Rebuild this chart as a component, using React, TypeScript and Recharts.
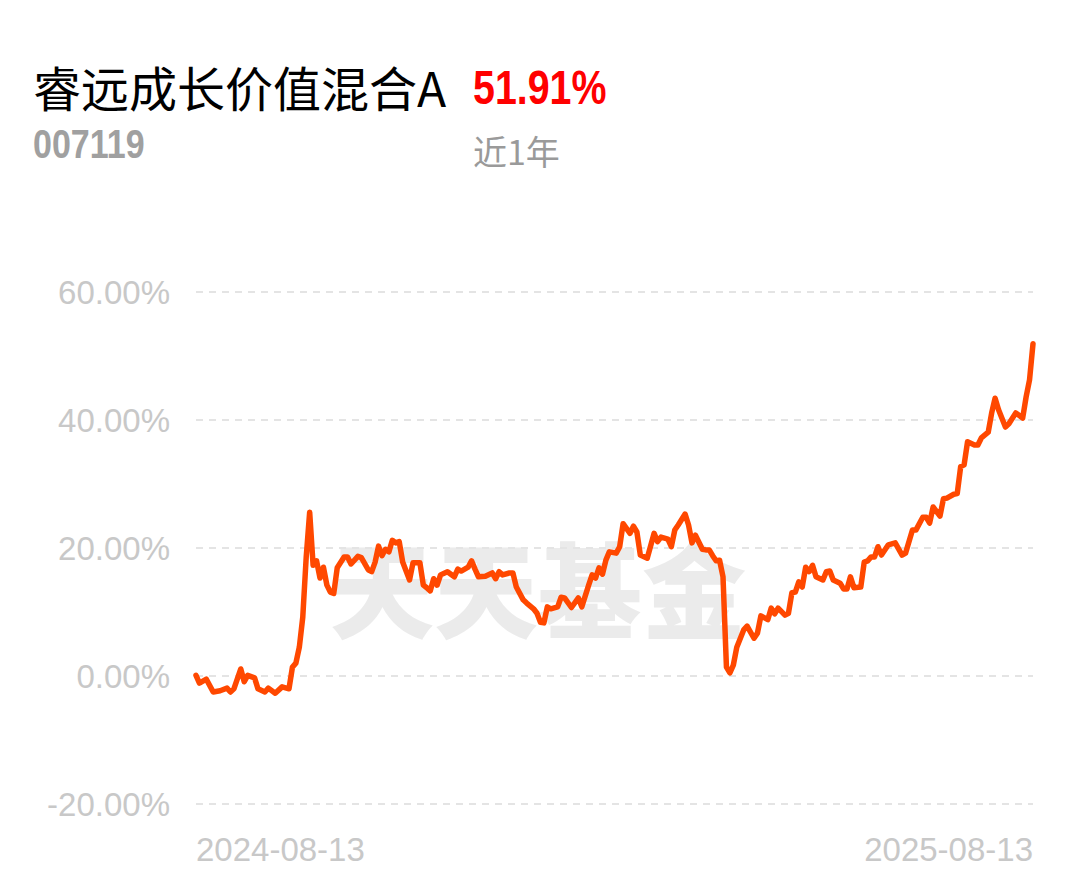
import { CartesianGrid, Line, LineChart, XAxis, YAxis } from "recharts";

// trading-day index since 2024-08-13, and cumulative return (%)
const days = [
  0, 1, 3, 5, 7, 9, 10, 11, 13, 14, 15, 17, 18, 20, 21, 23, 25, 27, 28, 29,
  30, 31, 32, 33, 34, 35, 36, 37, 38, 39, 40, 41, 43, 44, 45, 47, 48, 50, 51, 52,
  53, 54, 55, 56, 57, 58, 59, 60, 62, 63, 65, 66, 67, 68, 69, 70, 71, 73, 75, 76,
  77, 79, 80, 81, 82, 84, 86, 87, 88, 89, 91, 92, 93, 95, 96, 98, 99, 100, 101, 102,
  103, 105, 106, 107, 109, 111, 112, 114, 115, 116, 117, 118, 119, 120, 122, 123, 124, 126, 127, 128,
  129, 131, 133, 134, 135, 137, 138, 139, 140, 142, 143, 144, 145, 147, 148, 149, 150, 151, 152, 153,
  154, 155, 156, 157, 159, 160, 162, 163, 164, 166, 167, 168, 169, 171, 172, 173, 174, 175, 176, 177,
  178, 179, 180, 182, 183, 184, 185, 187, 188, 189, 190, 191, 193, 194, 195, 196, 197, 198, 199, 201,
  203, 205, 206, 208, 209, 211, 212, 213, 214, 216, 217, 218, 220, 221, 222, 223, 224, 226, 227, 228,
  230, 231, 232, 233, 235, 236, 238, 240, 241, 242, 243,
];

const returns = [
  0.1, -1.1, -0.5, -2.5, -2.3, -1.9, -2.5, -2.0, 1.1, -0.9, 0.1, -0.3, -2.0, -2.5, -1.9, -2.7, -1.7, -2.0, 1.4, 2.0,
  4.5, 9.2, 18.6, 25.6, 17.3, 18.0, 15.3, 17.0, 14.2, 13.1, 12.9, 16.9, 18.6, 18.6, 17.5, 18.7, 18.5, 16.6, 16.3, 17.8,
  20.3, 18.8, 19.8, 19.4, 21.2, 20.8, 21.0, 17.8, 15.0, 17.7, 17.7, 14.2, 13.8, 13.3, 15.2, 14.2, 15.8, 16.3, 15.5, 16.7,
  16.4, 17.0, 18.0, 16.7, 15.5, 15.6, 16.1, 15.2, 16.3, 15.8, 16.1, 16.1, 13.9, 11.9, 11.4, 10.5, 9.8, 8.4, 8.3, 10.8,
  10.5, 10.8, 12.3, 12.2, 10.7, 12.2, 10.8, 14.2, 15.8, 15.3, 16.9, 15.9, 18.1, 19.4, 19.2, 20.2, 23.8, 22.3, 23.4, 22.5,
  18.9, 18.4, 22.3, 21.0, 21.7, 21.4, 20.2, 22.8, 23.6, 25.3, 23.6, 20.8, 22.0, 19.8, 19.7, 19.7, 18.8, 18.0, 18.1, 15.5,
  1.4, 0.5, 1.7, 4.5, 7.2, 7.8, 5.9, 6.7, 9.4, 8.8, 10.6, 9.7, 10.6, 9.5, 9.8, 13.0, 13.1, 14.7, 13.9, 17.0,
  16.3, 17.3, 15.5, 15.0, 16.3, 16.4, 15.0, 14.5, 13.6, 13.6, 15.5, 13.8, 13.9, 17.8, 18.0, 18.6, 18.6, 20.2, 18.9, 20.5,
  20.8, 18.9, 19.2, 22.8, 22.8, 24.8, 24.8, 23.9, 26.4, 25.0, 27.7, 27.8, 28.4, 28.5, 32.7, 33.0, 36.6, 36.1, 36.1, 37.2,
  38.1, 41.1, 43.4, 41.6, 38.9, 39.4, 41.1, 40.3, 43.6, 46.3, 51.91,
];

const dateTicks = [0, 243];
const dateLabels = ["2024-08-13", "2025-08-13"];
const yTicks = [-20, 0, 20, 40, 60];

const data = days.map((d, i) => ({ day: d, value: returns[i] }));

const DateTick = (props: any) => {
  const { x, y, payload, index } = props;
  const i = dateTicks.indexOf(payload.value);
  return (
    <text
      x={x}
      y={y}
      dy={49}
      textAnchor={index === 0 ? "start" : "end"}
      fill="#c8c8c8"
      fontSize={33}
      fontFamily="'Liberation Sans', Arial, sans-serif"
    >
      {dateLabels[i]}
    </text>
  );
};

const narrow = (scale: number): React.CSSProperties => ({
  display: "inline-block",
  transform: `scaleX(${scale})`,
  transformOrigin: "left top",
  whiteSpace: "nowrap",
});

export default function App() {
  return (
    <div style={{ position: "absolute", left: 0, top: 0, width: 1080, height: 881, background: "#fff", overflow: "hidden" }}>
      <div style={{ position: "absolute", left: 33, top: 62, fontSize: 48, lineHeight: 1, color: "#000", fontFamily: "'Noto Sans CJK SC', sans-serif", whiteSpace: "nowrap" }}>
        睿远成长价值混合A
      </div>
      <div style={{ position: "absolute", left: 473, top: 64, fontSize: 48, lineHeight: 1, color: "#ff0000", fontWeight: "bold", fontFamily: "'Liberation Sans', Arial, sans-serif" }}>
        <span style={narrow(0.82)}>51.91%</span>
      </div>
      <div style={{ position: "absolute", left: 33, top: 124, fontSize: 40, lineHeight: 1, color: "#a0a0a0", fontWeight: "bold", fontFamily: "'Liberation Sans', Arial, sans-serif" }}>
        <span style={narrow(0.85)}>007119</span>
      </div>
      <div style={{ position: "absolute", left: 473, top: 134, fontSize: 34, lineHeight: 1, color: "#9a9a9a", fontFamily: "'Noto Sans CJK SC', sans-serif" }}>
        近1年
      </div>
      <div style={{ position: "absolute", left: 330, top: 534, fontSize: 104, lineHeight: 1, color: "#ebebeb", fontWeight: 900, fontFamily: "'Noto Sans CJK SC', sans-serif", whiteSpace: "nowrap" }}>
        天天基金
      </div>
      <div style={{ position: "absolute", left: 0, top: 0 }}>
        <LineChart width={1080} height={881} data={data} margin={{ top: 292, right: 47, bottom: 17, left: 0 }}>
          <CartesianGrid vertical={false} stroke="#e4e4e4" strokeWidth={2} strokeDasharray="7 6" />
          <XAxis
            dataKey="day"
            type="number"
            domain={[0, 243]}
            ticks={dateTicks}
            axisLine={false}
            tickLine={false}
            height={60}
            tick={<DateTick />}
            interval={0}
          />
          <YAxis
            type="number"
            domain={[-20, 60]}
            ticks={yTicks}
            axisLine={false}
            tickLine={false}
            width={196}
            tickMargin={20}
            tickFormatter={(v: number) => v.toFixed(2) + "%"}
            tick={{ fill: "#c8c8c8", fontSize: 33, fontFamily: "'Liberation Sans', Arial, sans-serif" }}
          />
          <Line
            type="linear"
            dataKey="value"
            stroke="#ff4800"
            strokeWidth={5.5}
            strokeLinejoin="round"
            strokeLinecap="round"
            dot={false}
            isAnimationActive={false}
          />
        </LineChart>
      </div>
    </div>
  );
}
